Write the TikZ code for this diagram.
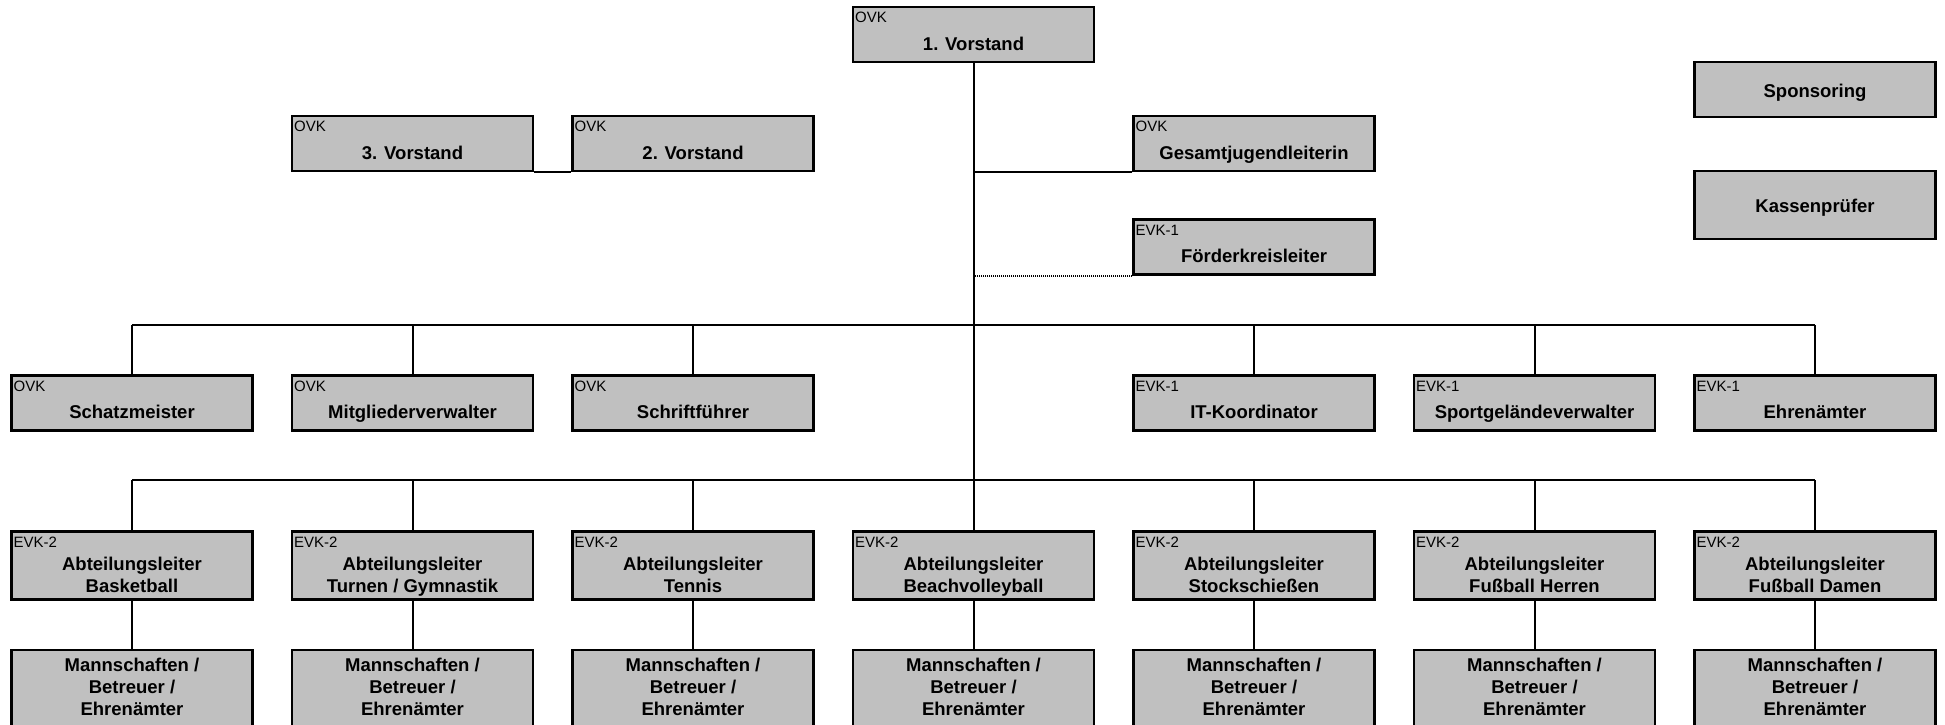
\documentclass[tikz,border=0pt]{standalone}
\usepackage{fontspec}
\setmainfont{Liberation Sans}
\usepackage{tikz}
\definecolor{boxgray}{RGB}{192,192,192}
\newcommand{\tagfont}{\fontsize{15}{15}\selectfont}
\newcommand{\boxfont}{\fontsize{18.5}{22}\selectfont\bfseries}
\tikzstyle{org} = [draw, line width=2.2pt, fill=boxgray, minimum width=241pt, minimum height=55pt, inner sep=0pt]
\tikzstyle{tall} = [minimum height=68pt]
\tikzstyle{tag} = [anchor=base west, xshift=3pt, yshift=-17pt, font=\tagfont, inner sep=0pt]
\tikzstyle{one} = [anchor=base, yshift=-9pt, text depth=0pt, font=\boxfont, inner sep=0pt]
\tikzstyle{two} = [anchor=base, align=center, yshift=-9.5pt, text depth=0pt, font=\boxfont, inner sep=0pt]
\tikzstyle{conn} = [line width=2pt]
\tikzstyle{dots} = [line width=2pt, dash pattern=on 1pt off 1pt]

\begin{document}
\begin{tikzpicture}[x=1pt,y=-1pt]
			\clip (0,0) rectangle (1945,725);
			\fill[white] (0,0) rectangle (1945,725);
			% Vorstand
			\node[org, label={[tag]north west:OVK}, label={[one]center:1. Vorstand}] (vorst1) at (973.5,34.5) {};
			\node[org, label={[tag]north west:OVK}, label={[one]center:3. Vorstand}] (vorst3) at (412.5,143.5) {};
			\node[org, label={[tag]north west:OVK}, label={[one]center:2. Vorstand}] (vorst2) at (693,143.5) {};
			\node[org, label={[tag]north west:OVK}, label={[one]center:Gesamtjugendleiterin}] (jugend) at (1254,143.5) {};
			\node[org, label={[tag]north west:EVK-1}, label={[one]center:Förderkreisleiter}] (foerder) at (1254,247) {};
			\node[org, label={[one, yshift=8.2pt]center:Sponsoring}] (spons) at (1815,89.5) {};
			\node[org, tall, label={[one, yshift=8.5pt]center:Kassenprüfer}] (kasse) at (1815,205) {};
			% zweite Ebene
			\node[org, label={[tag]north west:OVK}, label={[one]center:Schatzmeister}] (schatz) at (132,403) {};
			\node[org, label={[tag]north west:OVK}, label={[one]center:Mitgliederverwalter}] (mitglied) at (412.5,403) {};
			\node[org, label={[tag]north west:OVK}, label={[one]center:Schriftführer}] (schrift) at (693,403) {};
			\node[org, label={[tag]north west:EVK-1}, label={[one]center:IT-Koordinator}] (itko) at (1254,403) {};
			\node[org, label={[tag]north west:EVK-1}, label={[one]center:Sportgeländeverwalter}] (sport) at (1534.5,403) {};
			\node[org, label={[tag]north west:EVK-1}, label={[one]center:Ehrenämter}] (ehren) at (1815,403) {};
			% Abteilungen
			\node[org, tall, label={[tag]north west:EVK-2}, label={[two]center:Abteilungsleiter\\Basketball}] (al0) at (132,565.5) {};
			\node[org, tall, label={[tag]north west:EVK-2}, label={[two]center:Abteilungsleiter\\Turnen / Gymnastik}] (al1) at (412.5,565.5) {};
			\node[org, tall, label={[tag]north west:EVK-2}, label={[two]center:Abteilungsleiter\\Tennis}] (al2) at (693,565.5) {};
			\node[org, tall, label={[tag]north west:EVK-2}, label={[two]center:Abteilungsleiter\\Beachvolleyball}] (al3) at (973.5,565.5) {};
			\node[org, tall, label={[tag]north west:EVK-2}, label={[two]center:Abteilungsleiter\\Stockschießen}] (al4) at (1254,565.5) {};
			\node[org, tall, label={[tag]north west:EVK-2}, label={[two]center:Abteilungsleiter\\Fußball Herren}] (al5) at (1534.5,565.5) {};
			\node[org, tall, label={[tag]north west:EVK-2}, label={[two]center:Abteilungsleiter\\Fußball Damen}] (al6) at (1815,565.5) {};
			% Mannschaften
			\foreach \i/\x in {0/132,1/412.5,2/693,3/973.5,4/1254,5/1534.5,6/1815}
				\node[org, minimum height=95pt, label={[two, yshift=20.5pt]center:Mannschaften /\\Betreuer /\\Ehrenämter}] (ms\i) at (\x,697.5) {};
			% Linien
			\coordinate (bus1) at (973.5,325);
			\coordinate (bus2) at (973.5,480);
			\draw[conn] (vorst1.south) -- (bus2);
			\draw[conn] (vorst3.south east) -- (vorst2.south west);
			\draw[conn] (jugend.south west) -- (jugend.south west -| vorst1.south);
			\draw[dots] (foerder.south west) -- (foerder.south west -| vorst1.south);
			\draw[conn] (schatz.north |- bus1) -- (ehren.north |- bus1);
			\foreach \n in {schatz,mitglied,schrift,itko,sport,ehren}
				\draw[conn] (\n.north) -- (\n.north |- bus1);
			\draw[conn] (al0.north |- bus2) -- (al6.north |- bus2);
			\foreach \i in {0,...,6} {
				\draw[conn] (al\i.north) -- (al\i.north |- bus2);
				\draw[conn] (al\i.south) -- (ms\i.north);
			}
		\end{tikzpicture}
\end{document}
